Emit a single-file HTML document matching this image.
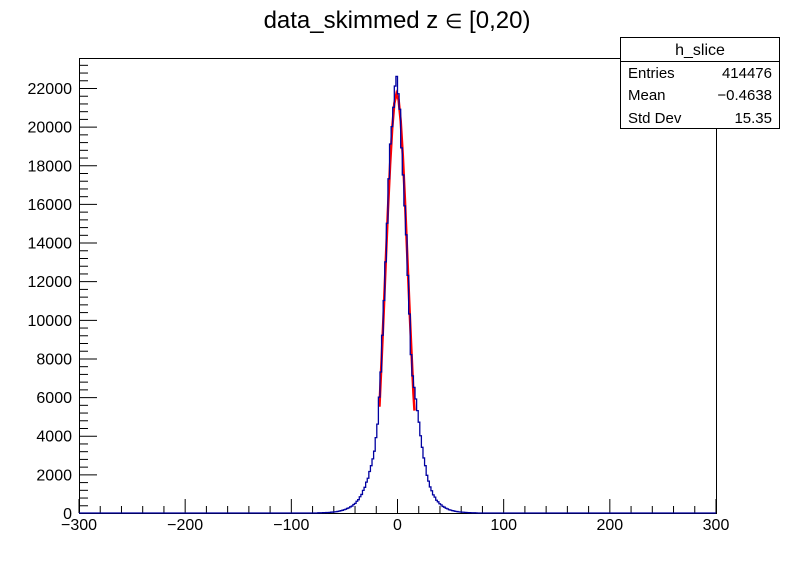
<!DOCTYPE html>
<html><head><meta charset="utf-8"><style>
body{margin:0;background:#fff;}
svg text{font-family:"Liberation Sans",sans-serif;}
</style></head><body>
<svg id="c" width="796" height="572" xmlns="http://www.w3.org/2000/svg">
<rect width="796" height="572" fill="#fff"/>
<text x="397" y="28" font-size="24" text-anchor="middle">data_skimmed z  <tspan font-size="20">∈</tspan> [0,20)</text>
<g id="axes"></g>
<g id="plot"></g>
<g>
<rect x="620.5" y="37.5" width="159" height="91" fill="#fff" stroke="#000"/>
<line x1="620" y1="61.5" x2="780" y2="61.5" stroke="#000"/>
<text x="700" y="55" font-size="16" text-anchor="middle">h_slice</text>
<text x="628" y="78" font-size="15">Entries</text><text x="772" y="78" font-size="15" text-anchor="end">414476</text>
<text x="628" y="100" font-size="15">Mean</text><text x="772" y="100" font-size="15" text-anchor="end">−0.4638</text>
<text x="628" y="123" font-size="15">Std Dev</text><text x="772" y="123" font-size="15" text-anchor="end">15.35</text>
</g>
</svg>
<script>
const binStart = -75;
const binWidth = 1.5;
const counts = [9,11,14,16,19,22,27,33,42,48,57,65,82,98,120,140,170,195,235,265,320,360,440,500,610,690,840,960,1170,1330,1600,1800,2150,2450,2800,3200,3900,4600,6000,7300,9200,11000,13000,15000,17300,19100,20000,21000,22100,22600,21700,20900,18900,17500,15900,14400,12300,10300,8200,7100,6500,5900,5300,4700,4000,3400,2850,2450,1950,1650,1350,1150,940,820,660,580,480,420,340,300,245,215,170,150,122,108,85,75,58,52,42,37,30,26,19,17,13,11,9,7];
const fitX = [-17,-15,-13,-11,-9,-7,-5,-3,-1,1,3,5,7,9,11,13,15,16];
const fitY = [5500,7900,10400,13100,15700,18000,19900,21200,21700,21400,20300,18500,16200,13600,11000,8500,6200,5300];
const xTicks = [-300,-200,-100,0,100,200,300];
const yTicks = [0,2000,4000,6000,8000,10000,12000,14000,16000,18000,20000,22000];

const L=79,R=716,T=58,B=513;
const X=v=>L+(v+300)/600*(R-L);
const Y=v=>B-v/22000*425;
const ns="http://www.w3.org/2000/svg";
function mk(t,a,p){const e=document.createElementNS(ns,t);for(const k in a)e.setAttribute(k,a[k]);p.appendChild(e);return e;}
const ax=document.getElementById('axes'),pl=document.getElementById('plot');
const fr=mk('rect',{x:L+.5,y:T+.5,width:R-L,height:B-T,fill:'none',stroke:'#000'},ax);


for(let v=-300;v<=300;v+=20){const maj=v%100===0;mk('line',{x1:X(v),x2:X(v),y1:B,y2:B-(maj?14:7),stroke:'#000'},ax);}
xTicks.forEach(v=>{const t=mk('text',{x:X(v),y:B+17,'font-size':16,'text-anchor':'middle'},ax);t.textContent=v<0?'−'+(-v):v;

});
for(let v=0;v<=23200;v+=400){if(Y(v)<T)break;const maj=v%2000===0;mk('line',{x1:L,x2:L+(maj?18:9),y1:Y(v)+.5,y2:Y(v)+.5,stroke:'#000'},ax);}
yTicks.forEach(v=>{const t=mk('text',{x:72,y:Y(v)+6,'font-size':16,'text-anchor':'end'},ax);t.textContent=v;

});
const f=mk('polyline',{points:fitX.map((x,i)=>X(x)+','+Y(fitY[i])).join(' '),fill:'none',stroke:'#f00','stroke-width':2.5},pl);


let d='M'+X(-300)+','+Y(0)+' L'+X(binStart)+','+Y(0);
counts.forEach((c,i)=>{const x0=X(binStart+i*binWidth),x1=X(binStart+(i+1)*binWidth);d+=' L'+x0+','+Y(c)+' L'+x1+','+Y(c);});
d+=' L'+X(binStart+counts.length*binWidth)+','+Y(0)+' L'+X(300)+','+Y(0);
const h=mk('path',{d:d,fill:'none',stroke:'#0000a0','stroke-width':1.3},pl);


</script>
</body></html>
